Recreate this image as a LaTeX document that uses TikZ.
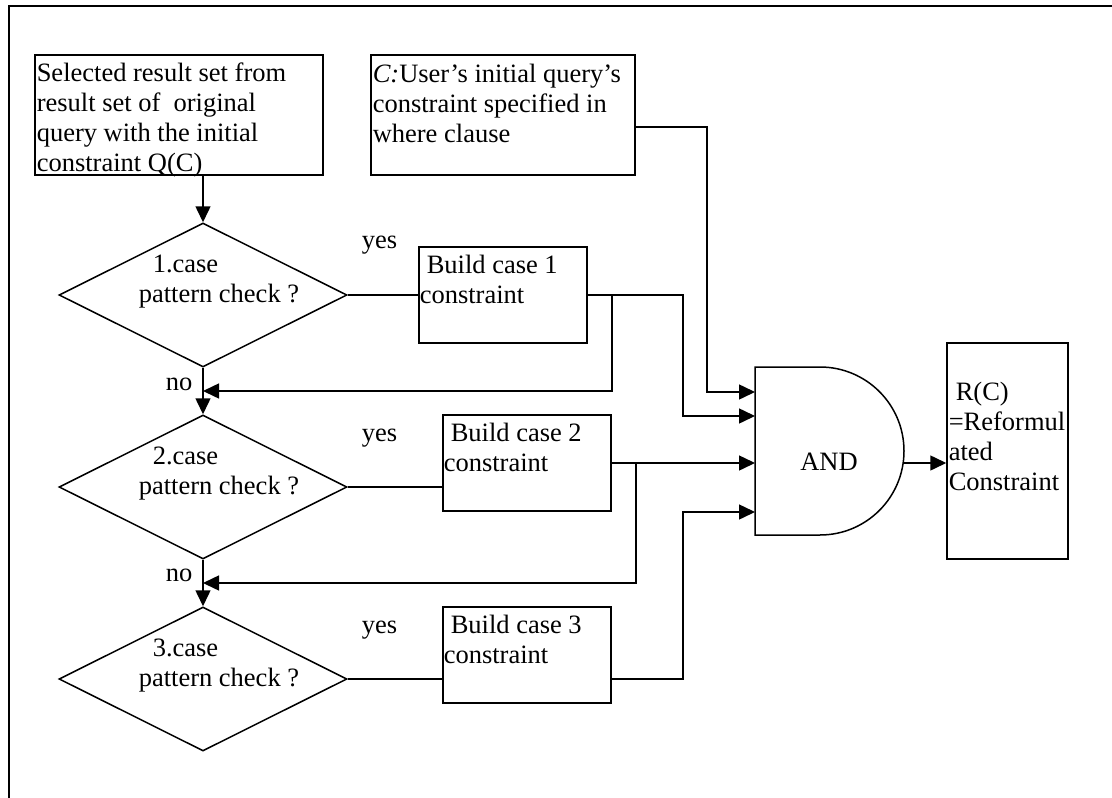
\documentclass[tikz,border=0pt]{standalone}
\usepackage{fontspec}
\setmainfont{Liberation Serif}
\usetikzlibrary{shapes.geometric,arrows.meta,calc}
\newcommand\mlines[1]{\begin{tabular}[t]{@{}l@{}}#1\end{tabular}}
\begin{document}
\begin{tikzpicture}[x=1pt,y=-1pt,
  line width=1.5pt,
  box/.style={draw,rectangle,inner sep=0pt},
  dia/.style={draw,diamond,inner sep=0pt},
  txt/.style={anchor=base west,inner sep=0pt,font=\fontsize{26.5pt}{30pt}\selectfont},
  arr/.style={-{Triangle[length=16pt,width=15pt]}}]
\useasboundingbox (0,0) rectangle (1112,798);
% outer frame (cropped)
\draw[line width=2pt] (9,798) -- (9,6) -- (1112,6);

% boxes
\node[box,minimum width=288,minimum height=120] (sel) at (179,115) {};
\node[box,minimum width=264,minimum height=120] (cbox) at (503,115) {};
\node[dia,minimum width=288,minimum height=144] (d1) at (203,295) {};
\node[dia,minimum width=288,minimum height=144] (d2) at (203,487) {};
\node[dia,minimum width=288,minimum height=144] (d3) at (203,679) {};
\node[box,minimum width=168,minimum height=96] (b1) at (503,295) {};
\node[box,minimum width=168,minimum height=96] (b2) at (527,463) {};
\node[box,minimum width=168,minimum height=96] (b3) at (527,655) {};
\node[box,minimum width=121,minimum height=216] (res) at (1007.5,451) {};

% AND gate
\draw (755,367) -- (820,367) arc[start angle=90,end angle=-90,radius=84pt] -- (755,535) -- cycle;
\node[txt,anchor=center] (and) at (829,462) {AND};
\coordinate (gin1) at (755,392);
\coordinate (gin2) at (755,416);
\coordinate (gin3) at (755,463);
\coordinate (gin4) at (755,512);
\coordinate (gout) at (903,463);

% texts
\node[txt] (selt) at (36,81) {\mlines{Selected result set from\\result set of\ \ original\\query with the initial\\constraint Q(C)}};
\node[txt] (ct) at (372,82) {\mlines{\textit{C:}User’s initial query’s\\constraint specified in\\where clause}};
\node[txt] (d1t) at (138,272) {\mlines{\hspace{14pt}1.case\\pattern check ?}};
\node[txt] (d2t) at (138,464) {\mlines{\hspace{14pt}2.case\\pattern check ?}};
\node[txt] (d3t) at (138,656) {\mlines{\hspace{14pt}3.case\\pattern check ?}};
\node[txt] (b1t) at (419,273) {\mlines{\hspace{7pt}Build case 1\\constraint}};
\node[txt] (b2t) at (443,441) {\mlines{\hspace{7pt}Build case 2\\constraint}};
\node[txt] (b3t) at (443,633) {\mlines{\hspace{7pt}Build case 3\\constraint}};
\node[txt] (rt) at (948,400) {\mlines{\hspace{7pt}R(C)\\=Reformul\\ated\\Constraint}};
\node[txt] (y1) at (361,248) {yes};
\node[txt] (y2) at (361,441) {yes};
\node[txt] (y3) at (361,633) {yes};
\node[txt] (n1) at (165,390) {no};
\node[txt] (n2) at (165,581) {no};

% connectors
\coordinate (no1) at ($(d1.south)!0.5!(d2.north)$);
\coordinate (no2) at ($(d2.south)!0.5!(d3.north)$);
\draw[arr] (sel.south -| d1.north) -- (d1.north);
\draw[arr] (d1.south) -- (d2.north);
\draw[arr] (d2.south) -- (d3.north);
\draw (d1.east) -- (b1.west |- d1.east);
\draw (d2.east) -- (b2.west |- d2.east);
\draw (d3.east) -- (b3.west |- d3.east);
\draw[arr] ([yshift=-12pt]cbox.east) -| ([xshift=-48pt]gin1) -- (gin1);
\draw[arr] (b1.east) -| ([xshift=-72pt]gin2) -- (gin2);
\draw[arr] ([xshift=24pt]b1.east) |- (no1);
\draw[arr] (b2.east) -- (gin3);
\draw[arr] ([xshift=24pt]b2.east) |- (no2);
\draw[arr] ([yshift=-24pt]b3.east) -| ([xshift=-72pt]gin4) -- (gin4);
\draw[arr] (gout) -- (res.west |- gout);
\end{tikzpicture}
\end{document}
